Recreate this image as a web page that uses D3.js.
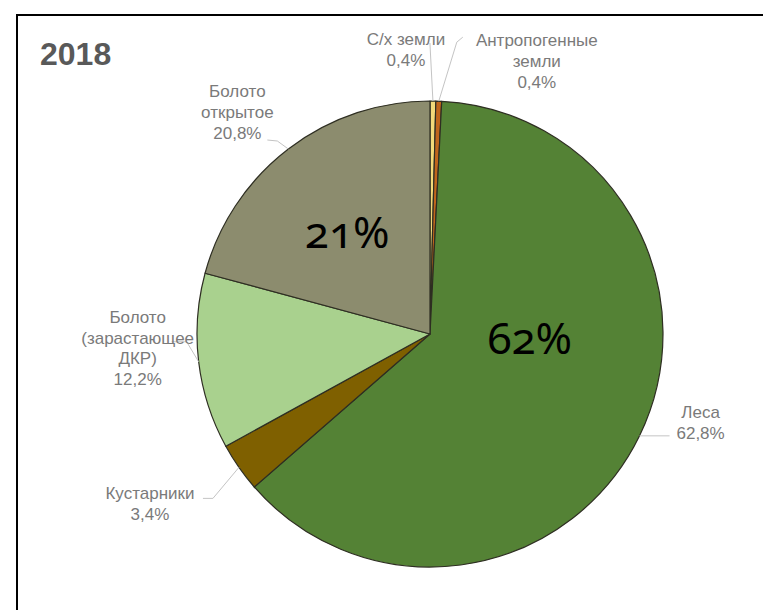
<!DOCTYPE html>
<html>
<head>
<meta charset="utf-8">
<script src="https://cdn.jsdelivr.net/npm/d3@7"></script>
<style>
  body { margin: 0; background: #fff; }
  .lbl { font-family: "Liberation Sans", Arial, sans-serif; font-size: 17px; fill: #7a7a7a; }
  .big { font-family: "Noto Sans", sans-serif; font-size: 44px; fill: #000; font-variant-numeric: oldstyle-nums; }
</style>
</head>
<body>
<div id="graph"></div>
<script>
const width = 763;
const height = 610;

// slices, clockwise from 12 o'clock
const categories = ['С/х земли', 'Антропогенные земли', 'Леса', 'Кустарники', 'Болото (зарастающее ДКР)', 'Болото открытое'];
const values = [0.4, 0.4, 62.8, 3.4, 12.2, 20.8];
const labelLines = [
  ['С/х земли', '0,4%'],
  ['Антропогенные', 'земли', '0,4%'],
  ['Леса', '62,8%'],
  ['Кустарники', '3,4%'],
  ['Болото', '(зарастающее', 'ДКР)', '12,2%'],
  ['Болото', 'открытое', '20,8%']
];
const bigLabels = [{slice: 2, text: '62%'}, {slice: 5, text: '21%'}];

const colors = ['#f2d97a', '#c0651c', '#548235', '#7f6000', '#a9d18e', '#8c8c6e'];

// label layout, relative to where the slice's mid angle meets the rim
const layout = [
  {dx: -27, dy: -56, leader: [[-3, -58]]},
  {dx: 98, dy: -55, leader: [[18, -59], [24, -64]]},
  {dx: 61, dy: -18, leader: [[30, 0]]},
  {dx: -89, dy: 32, leader: [[-26, 31], [-36, 31]]},
  {dx: -61, dy: -39, leader: [[-12, -20], [-27, -20]]},
  {dx: -51, dy: -52, leader: [[-11, -8], [-21, -9]]}
];
// big numbers, relative to the slice centroid
const bigOffset = [[-5, -31], [-12, 6]];

const cx = 430, cy = 334, R = 233;

const svg = d3.select('#graph')
  .append('svg')
  .attr('width', width)
  .attr('height', height);

// frame, runs off the right and bottom
svg.append('rect')
  .attr('x', 17).attr('y', 15)
  .attr('width', 800).attr('height', 700)
  .attr('fill', 'none')
  .attr('stroke', '#000')
  .attr('stroke-width', 2);

svg.append('text')
  .attr('x', 40).attr('y', 65)
  .style('font-family', '"Liberation Sans", Arial, sans-serif')
  .style('font-size', '32px')
  .style('font-weight', 'bold')
  .style('fill', '#595959')
  .text('2018');

const data = categories.map((c, i) => ({name: c, value: values[i], i: i}));

const pie = d3.pie().sort(null).value(d => d.value);
const arcs = pie(data);
const arc = d3.arc().innerRadius(0).outerRadius(R);

const g = svg.append('g').attr('transform', 'translate(' + cx + ',' + cy + ')');

g.selectAll('path.slice')
  .data(arcs)
  .enter().append('path')
  .attr('class', 'slice')
  .attr('d', arc)
  .attr('fill', d => colors[d.data.i])
  .attr('stroke', '#2e2e22')
  .attr('stroke-width', 1.2)
  .attr('stroke-linejoin', 'round');

function rim(d) {
  const a = (d.startAngle + d.endAngle) / 2;
  return [R * Math.sin(a), -R * Math.cos(a)];
}

// leader lines
g.selectAll('path.leader')
  .data(arcs)
  .enter().append('path')
  .attr('class', 'leader')
  .attr('fill', 'none')
  .attr('stroke', '#c4c4c4')
  .attr('stroke-width', 1)
  .attr('d', d => {
    const e = rim(d);
    const pts = [e].concat(layout[d.data.i].leader.map(p => [e[0] + p[0], e[1] + p[1]]));
    return d3.line()(pts);
  });

// outside labels
const lbl = g.selectAll('text.lbl')
  .data(arcs)
  .enter().append('text')
  .attr('class', 'lbl')
  .attr('text-anchor', 'middle')
  .attr('transform', d => {
    const e = rim(d);
    const l = layout[d.data.i];
    return 'translate(' + (e[0] + l.dx) + ',' + (e[1] + l.dy) + ')';
  });

lbl.selectAll('tspan')
  .data(d => labelLines[d.data.i])
  .enter().append('tspan')
  .attr('x', 0)
  .attr('y', (t, j) => j * 20.8)
  .text(t => t);

// big overlay numbers
g.selectAll('text.big')
  .data(bigLabels)
  .enter().append('text')
  .attr('class', 'big')
  .attr('text-anchor', 'middle')
  .attr('x', (d, k) => arc.centroid(arcs[d.slice])[0] + bigOffset[k][0])
  .attr('y', (d, k) => arc.centroid(arcs[d.slice])[1] + bigOffset[k][1])
  .text(d => d.text);
</script>
</body>
</html>
